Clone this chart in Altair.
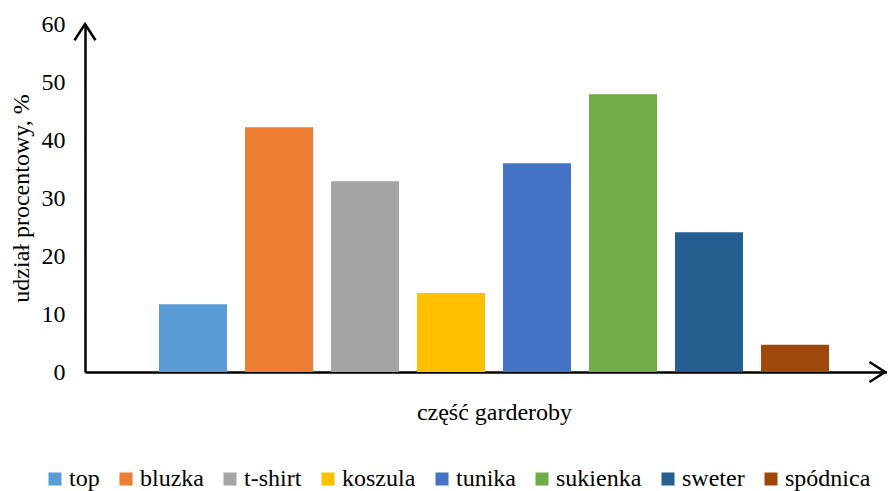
import altair as alt
import pandas as pd

categories = ["top", "bluzka", "t-shirt", "koszula", "tunika", "sukienka", "sweter", "spódnica"]
values = [11.7, 42.2, 32.9, 13.6, 36.0, 47.9, 24.1, 4.7]
colors = ["#5B9BD5", "#ED7D31", "#A5A5A5", "#FFC000", "#4472C4", "#70AD47", "#255E91", "#9E480E"]
y_ticks = [0, 10, 20, 30, 40, 50, 60]

FONT = "Liberation Serif"
FS = 24
W, H = 802, 348

df = pd.DataFrame({"kat": categories, "val": values})

bars = alt.Chart(df).mark_bar(opacity=1).encode(
    x=alt.X("kat:N", sort=categories,
            scale=alt.Scale(paddingInner=0.2093, paddingOuter=0.7674, align=0.5606),
            axis=alt.Axis(title="część garderoby", labels=False, ticks=False, grid=False,
                          domainColor="black", domainWidth=2.5,
                          titleFont=FONT, titleFontSize=FS, titleFontWeight="normal",
                          titleColor="black", titleX=409, titleY=28, titleBaseline="top")),
    y=alt.Y("val:Q", scale=alt.Scale(domain=[0, 60], nice=False),
            axis=alt.Axis(title="udział procentowy, %", values=y_ticks, ticks=False, grid=False,
                          domainColor="black", domainWidth=2.5,
                          labelFont=FONT, labelFontSize=FS, labelColor="black", labelPadding=20,
                          titleFont=FONT, titleFontSize=FS, titleFontWeight="normal",
                          titleColor="black", titlePadding=8)),
    color=alt.Color("kat:N", scale=alt.Scale(domain=categories, range=colors),
                    legend=alt.Legend(title=None, orient="none", direction="horizontal",
                                      legendX=-42, legendY=443,
                                      symbolType="square", symbolSize=169, symbolStrokeWidth=0,
                                      symbolOpacity=1, labelOffset=2, columnPadding=14,
                                      labelFont=FONT, labelFontSize=FS, labelColor="black",
                                      padding=0, labelLimit=300)),
)

arrow_y = alt.Chart(pd.DataFrame({"v": [60]})).mark_point(
    shape="M-1,1.55L0,0L1,1.55", size=441, filled=False, stroke="black",
    strokeWidth=2.5, opacity=1
).encode(x=alt.value(0), y="v:Q")

arrow_x = alt.Chart(pd.DataFrame({"v": [0]})).mark_point(
    shape="M-1.55,-1L0,0L-1.55,1", size=400, filled=False, stroke="black",
    strokeWidth=2.5, opacity=1
).encode(x=alt.value(W - 2), y="v:Q")

chart = alt.layer(bars, arrow_y, arrow_x).properties(
    width=W, height=H,
    padding={"left": 77, "top": 16, "right": 0, "bottom": 122},
    autosize=alt.AutoSizeParams(type="none"),
).configure(font=FONT).configure_view(stroke=None).configure_legend(
    labelFont=FONT, labelFontSize=FS
).configure_axis(labelFont=FONT, titleFont=FONT)

chart.save("out.html", embed_options={"renderer": "svg", "actions": False})
